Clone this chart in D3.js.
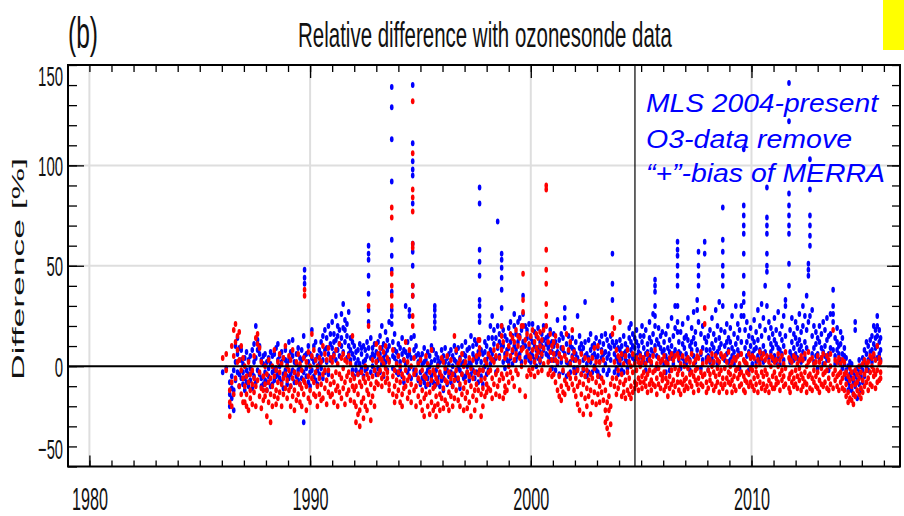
<!DOCTYPE html>
<html>
<head>
<meta charset="utf-8">
<script src="https://cdn.jsdelivr.net/npm/d3@7"></script>
<style>
  body { margin: 0; background: #fff; }
  svg { display: block; }
</style>
</head>
<body>
<script>
const w = 904;
const h = 516;

// axis ticks
const xTickYears = [1980, 1990, 2000, 2010];
const yTicks = [-50, 0, 50, 100, 150];
const mlsStart = 2004.72;

// sounding dates (decimal year) and the differences found at each date
const dates = [
  1986.04, 1986.20, 1986.36, 1986.45, 1986.54, 1986.62, 1986.71, 1986.79, 1986.88, 1986.96,
  1987.04, 1987.12, 1987.21, 1987.29, 1987.38, 1987.46, 1987.54, 1987.62, 1987.71, 1987.79, 1987.88, 1987.96,
  1988.04, 1988.12, 1988.21, 1988.29, 1988.38, 1988.46, 1988.54, 1988.62, 1988.71, 1988.79, 1988.88, 1988.96,
  1989.04, 1989.12, 1989.21, 1989.29, 1989.38, 1989.46, 1989.54, 1989.62, 1989.71, 1989.75, 1989.83, 1989.92,
  1990.00, 1990.08, 1990.17, 1990.25, 1990.33, 1990.42, 1990.50, 1990.58, 1990.67, 1990.75, 1990.83, 1990.92,
  1991.00, 1991.08, 1991.17, 1991.25, 1991.33, 1991.42, 1991.50, 1991.58, 1991.67, 1991.75, 1991.83, 1991.92,
  1992.00, 1992.08, 1992.17, 1992.25, 1992.33, 1992.42, 1992.50, 1992.58, 1992.65, 1992.75, 1992.83, 1992.92,
  1993.00, 1993.08, 1993.17, 1993.25, 1993.33, 1993.42, 1993.50, 1993.58, 1993.70, 1993.75, 1993.83, 1993.92,
  1994.00, 1994.08, 1994.17, 1994.25, 1994.33, 1994.42, 1994.50, 1994.58, 1994.65, 1994.71, 1994.80, 1994.90,
  1995.00, 1995.08, 1995.17, 1995.25, 1995.33, 1995.42, 1995.50, 1995.58, 1995.65, 1995.71, 1995.79, 1995.88, 1995.96,
  1996.04, 1996.12, 1996.21, 1996.29, 1996.38, 1996.46, 1996.54, 1996.62, 1996.71, 1996.79, 1996.88, 1996.96,
  1997.04, 1997.12, 1997.21, 1997.29, 1997.38, 1997.46, 1997.54, 1997.62, 1997.68, 1997.75, 1997.83, 1997.92,
  1998.00, 1998.08, 1998.17, 1998.25, 1998.33, 1998.42, 1998.50, 1998.58, 1998.68, 1998.75, 1998.83, 1998.92,
  1999.00, 1999.08, 1999.17, 1999.25, 1999.33, 1999.42, 1999.50, 1999.58, 1999.65, 1999.75, 1999.83, 1999.92,
  2000.00, 2000.08, 2000.17, 2000.25, 2000.33, 2000.42, 2000.50, 2000.58, 2000.70, 2000.79, 2000.88, 2000.96,
  2001.04, 2001.12, 2001.21, 2001.29, 2001.38, 2001.46, 2001.54, 2001.62, 2001.71, 2001.79, 2001.88, 2001.96,
  2002.04, 2002.12, 2002.21, 2002.29, 2002.38, 2002.46, 2002.54, 2002.62, 2002.71, 2002.79, 2002.88, 2002.96,
  2003.04, 2003.12, 2003.21, 2003.29, 2003.38, 2003.46, 2003.54, 2003.62, 2003.70, 2003.79, 2003.88, 2003.96,
  2004.04, 2004.12, 2004.21, 2004.29, 2004.38, 2004.46, 2004.54, 2004.62, 2004.71, 2004.79, 2004.88, 2004.96,
  2005.04, 2005.12, 2005.21, 2005.29, 2005.38, 2005.46, 2005.54, 2005.63, 2005.71, 2005.79, 2005.88, 2005.96,
  2006.04, 2006.12, 2006.21, 2006.29, 2006.38, 2006.46, 2006.54, 2006.65, 2006.71, 2006.79, 2006.88, 2006.96,
  2007.04, 2007.12, 2007.21, 2007.29, 2007.38, 2007.46, 2007.54, 2007.60, 2007.71, 2007.79, 2007.88, 2007.96,
  2008.04, 2008.12, 2008.21, 2008.29, 2008.38, 2008.46, 2008.54, 2008.62, 2008.70, 2008.79, 2008.88, 2008.96,
  2009.04, 2009.12, 2009.21, 2009.29, 2009.38, 2009.46, 2009.54, 2009.65, 2009.71, 2009.79, 2009.88, 2009.96,
  2010.04, 2010.12, 2010.21, 2010.29, 2010.38, 2010.46, 2010.54, 2010.62, 2010.70, 2010.79, 2010.88, 2010.96,
  2011.04, 2011.12, 2011.21, 2011.29, 2011.38, 2011.46, 2011.54, 2011.70, 2011.75, 2011.83, 2011.92,
  2012.00, 2012.08, 2012.17, 2012.25, 2012.33, 2012.42, 2012.50, 2012.58, 2012.65, 2012.75, 2012.83, 2012.92,
  2013.00, 2013.08, 2013.17, 2013.25, 2013.33, 2013.42, 2013.50, 2013.58, 2013.70, 2013.79, 2013.88, 2013.96,
  2014.04, 2014.12, 2014.21, 2014.29, 2014.38, 2014.46, 2014.54, 2014.62, 2014.70, 2014.79, 2014.88, 2014.96,
  2015.04, 2015.12, 2015.21, 2015.29, 2015.38, 2015.46, 2015.54, 2015.62, 2015.70, 2015.79, 2015.85
];

// blue series [%]
const blueVals = [
  [-3], [-1], [-8,-14,-20], [-5,-16,-11], [-12,-22,-2], [2,-7,10], [6,-3,14], [-4,9,-10], [3,-6,8], [-9,1,-3],
  [-6,4,-12], [-2,7,-8], [3,-10,-4], [-7,5,-1], [8,-3,-11], [-5,2,11], [4,-8,20], [13,8,-2], [10,-4,6], [-6,3,-10], [1,-9,5], [-3,6,-7],
  [-8,2,-12], [4,-5,-1], [-10,1,7], [-3,-9,5], [6,-2,-7], [-1,9,-5], [11,3,-4], [-6,5,0], [2,-8,7], [-4,4,-11], [8,-2,3], [-5,1,-9],
  [3,-6,12], [-4,7,-10], [5,-2,13], [-8,2,-3], [6,-5,1], [-2,9,-7], [4,-9,0], [-6,3,8], [15,-3,-28], [48,44,41,5], [-5,6,-1], [2,-8,10],
  [-3,6,-10], [18,4,-2], [10,-5,2], [-7,3,12], [5,-2,-9], [-4,8,1], [12,-1,6], [3,15,-6], [8,-3,18], [14,2,9], [6,20,-4], [11,3,16],
  [9,22,4], [16,6,12], [13,25,3], [20,8,15], [5,18,11], [26,10,14], [7,19,31], [23,18,12], [15,4,21], [10,27,6], [3,14,8], [12,-2,6],
  [4,-5,10], [-2,7,1], [8,-4,3], [1,11,-3], [6,-1,9], [10,2,-5], [3,8,-2], [12,5,-1], [60,56,53,45,36,28,22,9], [4,-3,14], [9,0,6], [-2,5,11],
  [7,-4,2], [3,12,-1], [15,6,-3], [1,9,20], [11,4,-5], [6,17,2], [-2,8,13], [10,3,22], [139,129,113,92,63,55,48,37,28,25,21], [12,5,-1], [4,16,8], [-3,7,2],
  [5,-4,11], [9,2,-2], [-5,6,14], [3,-8,8], [30,7,1], [12,-3,5], [28,25,6,-1], [4,14,-6], [140,111,102,98,95,81,61,57,50,40,35], [8,-2,15], [-4,5,10], [2,-7,6],
  [-3,4,-9], [6,-6,1], [-8,2,9], [3,-4,-10], [-2,7,-6], [5,-9,0], [-5,10,2], [8,-3,-8], [30,28,25,22,19,3], [-2,6,-9], [4,-6,1], [-10,2,-4], [3,-7,8],
  [-6,5,-12], [2,-3,9], [-9,4,-2], [6,-5,1], [-3,8,-8], [5,-10,0], [-4,3,10], [7,-6,2], [-1,9,-7], [4,-2,-11], [10,1,-4], [-6,6,2],
  [5,-5,12], [-3,8,0], [9,2,-7], [1,15,-4], [6,-2,10], [-6,4,13], [11,2,-3], [4,-8,7], [89,81,58,52,45,33,30,25,22], [2,-5,8], [-2,6,-9], [7,0,12],
  [3,10,-4], [14,5,-2], [8,20,1], [25,6,14], [11,18,3], [4,14,-3], [72,20,9], [16,5,12], [56,53,49,44,38,29,20,10], [10,2,18], [6,15,-1], [13,3,8],
  [9,19,2], [4,12,22], [15,7,1], [20,10,26], [8,16,3], [22,12,5], [6,15,24], [18,9,2], [35,26,12], [10,20,4], [14,5,18], [21,9,3],
  [6,14,2], [12,21,5], [3,10,17], [15,8,0], [9,19,4], [2,12,7], [16,5,10], [8,13,20], [14,6,11], [5,15,9], [18,3,11], [7,12,-1],
  [3,10,16], [12,-2,6], [23,7,1], [5,13,-4], [9,2,16], [-3,8,14], [29,24,19,6], [11,2,-5], [7,15,1], [2,10,-3], [14,5,9], [-1,8,3],
  [6,-3,12], [25,4,-1], [9,15,2], [-4,7,11], [3,-2,9], [32,12,5], [6,-5,1], [13,4,-3], [8,2,16], [-3,10,5], [11,0,6], [4,14,-2],
  [9,-3,5], [2,12,-5], [15,4,8], [-2,6,11], [7,1,16], [4,13,-4], [10,-2,6], [3,9,15], [56,41,33,12], [6,-3,10], [12,4,-1], [2,9,-4],
  [8,1,13], [-2,10,4], [6,15,-3], [11,3,7], [2,9,-1], [14,5,19], [21,8,12], [16,4,10], [9,14,2], [5,12,18], [10,3,7], [15,6,1],
  [4,12,20], [9,2,15], [18,6,-2], [3,11,7], [14,22,5], [8,1,12], [26,16,6], [43,40,37,30,25,20,10], [5,13,-1], [11,4,19], [2,9,15], [7,17,3],
  [12,1,8], [5,16,-3], [20,9,3], [-2,7,13], [10,24,4], [15,6,1], [8,19,30], [62,58,55,50,45,40,30,22,17], [12,3,7], [17,6,-1], [4,11,21], [9,2,14],
  [6,15,1], [13,4,24], [3,10,-2], [19,8,12], [5,27,14], [11,2,17], [33,28,8], [57,50,45,40,22], [16,6,-1], [9,20,3], [62,56,14], [4,12,8],
  [15,5,-2], [8,18,2], [24,11,4], [2,9,16], [13,28,6], [7,1,20], [32,14,9], [18,5,11], [79,63,57,50,45,40,30], [10,3,17], [6,21,12], [14,2,8],
  [3,12,19], [9,25,5], [16,7,1], [4,30,11], [21,8,14], [6,18,-1], [30,25,12], [108,80,75,70,66,56,45,36,32,25], [18,9,2], [12,22,5], [7,15,-2], [19,4,10],
  [6,14,1], [23,8,12], [2,17,9], [13,5,28], [8,20,3], [31,15,6], [10,24,2], [40,18,7], [89,74,70,66,56,50,47,30], [14,4,22], [7,19,11], [16,3,9],
  [5,13,24], [11,2,18], [27,9,4], [8,16,1], [20,6,13], [3,25,10], [33,30,15], [141,122,86,80,75,70,66,51,40], [18,7,2], [12,24,5], [9,3,16],
  [14,22,6], [4,11,19], [26,8,13], [2,17,10], [20,30,7], [12,4,25], [35,18,9], [51,48,45,22], [103,88,75,70,65,60,25], [15,6,28], [9,20,2], [17,5,11],
  [6,14,-1], [12,3,20], [4,16,9], [22,7,1], [10,18,5], [3,13,24], [15,6,-2], [26,9,16], [38,30,26,22,8], [5,14,1], [19,8,12], [2,10,6],
  [11,3,17], [6,14,-1], [9,1,5], [-2,4,-6], [-8,0,-12], [-4,-10,2], [-12,-6,1], [-3,-14,-8], [22,18,-5,-10], [-16,-7,-1], [-9,-3,3], [-5,-12,0],
  [-2,-8,4], [2,-5,8], [6,0,12], [10,3,-2], [4,13,7], [15,8,2], [11,20,5], [18,9,14], [25,20,15,10,4], [12,6,18], [8,3,14]
];

// red series [%]
const redVals = [
  [4], [6,-2], [-12,-25,-18], [-8,-20,10], [5,-14,18], [12,21,-6], [8,15,2], [3,-10,17], [-2,10,-14], [-6,4,-18],
  [-10,-18,0], [-14,-5,-20], [-8,-22,2], [-16,-4,-12], [-2,-19,-9], [-13,-6,5], [-20,-10,14], [16,11,-7], [9,-15,-3], [-11,2,-21], [-5,-17,-12], [-9,0,-15],
  [-12,-25,-4], [-18,-8,3], [-28,-14,-6], [-10,-20,0], [-5,-15,8], [-12,-2,-19], [2,-8,-16], [-3,-13,6], [-9,1,-20], [-14,-6,4], [10,-4,-11], [-7,-16,0],
  [-2,-12,5], [-10,-20,3], [-6,-15,8], [-12,-3,-22], [-8,2,-17], [-14,-4,6], [-18,-9,1], [-11,-20,-2], [-14,-7,4], [38,35,-8], [-22,-10,2], [-16,-5,7],
  [-12,0,-18], [16,-6,5], [-8,8,-14], [-15,-3,3], [-20,-10,0], [-6,-14,4], [2,-9,-17], [-4,-16,10], [-11,-2,6], [-7,-19,3], [-2,-13,9], [-9,4,-15],
  [-5,-14,2], [5,-8,-18], [-3,-12,8], [-10,1,-20], [11,-4,-13], [-6,4,-16], [-1,-11,6], [-8,3,-19], [2,-14,-5], [-12,5,-3], [-7,-17,1], [15,-4,-10],
  [-6,-18,-12], [-20,-28,-10], [-14,-24,-4], [-22,-8,-30], [-10,-18,-3], [-16,-26,-6], [-8,-20,0], [-12,-4,-22], [30,20,-6,-14], [-18,-9,-27], [-5,-15,3], [-11,-2,-20],
  [2,-8,11], [-4,6,-9], [9,-2,4], [-6,3,-10], [7,-4,1], [-1,-8,10], [4,-6,-3], [-9,2,-12], [79,74,46,40,35,30], [8,-5,-14], [-10,-2,-18], [-7,1,-15],
  [-12,-3,5], [-8,-18,0], [-14,-4,-20], [-6,3,-11], [-2,-10,12], [-16,-7,2], [8,-5,-13], [-9,0,-18], [132,106,88,84,77,61,59,40,35,25,20], [-4,-12,4], [-10,-20,-2], [-15,-6,1],
  [-8,-18,3], [-12,-2,-22], [-16,-25,-5], [-6,-14,5], [-20,-9,1], [-13,-3,-24], [-7,-18,8], [-22,-11,-2], [-10,-20,-4], [-15,-25,-6], [-8,-19,0], [-14,-3,-22], [-5,-16,4],
  [-11,-21,2], [-7,-17,-1], [-19,-8,5], [-13,-3,-22], [-6,-15,3], [-20,-10,-4], [15,-7,-16], [-12,-2,8], [-17,-6,1], [-9,-20,3], [-4,-14,6], [-11,-22,0],
  [-8,-16,2], [-13,-3,-21], [-5,-18,4], [-10,-1,-25], [-15,-6,3], [-3,-12,-22], [-9,5,-17], [13,-4,-12], [13,9,6,-2], [-7,-25,-14], [-11,-2,-20], [-6,3,-15],
  [-9,1,-13], [-3,6,-11], [-12,-2,4], [-6,3,-16], [2,-9,8], [-4,-14,5], [10,-2,-10], [-7,-15,4], [20,15,8,-4], [12,-6,-16], [-10,4,-13], [6,-4,-12],
  [10,0,-8], [16,5,-3], [8,-6,14], [3,12,-10], [18,6,-2], [10,-4,15], [4,14,-12], [20,8,0], [46,33,27,20,9], [13,2,-15], [7,16,-5], [11,-2,5],
  [15,4,-4], [8,18,-1], [12,2,-5], [5,16,9], [14,-3,7], [10,3,17], [6,-2,13], [18,9,1], [90,88,58,48,41,31,25,20], [12,2,-4], [7,16,-2], [10,3,-5],
  [6,-4,12], [-8,3,15], [10,-12,2], [-15,-5,6], [-10,-17,4], [-2,9,-13], [-7,5,-14], [3,-9,16], [-4,8,-11], [12,-6,1], [-9,4,18], [-3,7,-12],
  [-6,3,-15], [-10,-2,-19], [2,-8,-22], [-14,-4,6], [-9,-24,-1], [-16,-5,4], [-20,-11,-2], [-7,3,-15], [-12,-24,-4], [-6,4,-18], [-13,-1,9], [-8,-19,2],
  [-5,-14,10], [-10,2,-18], [7,-6,-13], [-17,-8,3], [-22,-28,-12], [-26,-31,-18], [-22,-34,-15], [-20,-29,-9], [24,16,-6], [19,-10,2], [-6,8,-14], [-11,-2,5],
  [22,3,-8], [-4,-15,6], [-9,1,-13], [5,-7,-16], [-12,-3,8], [-6,-14,2], [-10,-16,0], [-3,-13,6], [-8,1,-11], [-2,-9,4], [-6,2,-12], [0,-8,5],
  [-5,2,-11], [-8,4,-3], [1,-10,-6], [-4,6,-13], [-9,-2,3], [2,-7,-12], [-3,5,-9], [8,-2,-10], [-6,1,-14], [-1,-9,4], [-11,-4,2], [-7,3,-5],
  [-3,-12,5], [2,-6,-10], [-8,1,-15], [-5,4,-11], [-2,-9,6], [3,-7,-13], [-10,-1,5], [6,-4,-8], [-12,-2,4], [1,-8,-14], [-4,5,-9], [-7,0,-12],
  [-6,3,-10], [-1,-11,4], [2,-8,-4], [-10,-3,6], [-5,1,-13], [3,-7,-2], [-9,-1,5], [4,-6,-12], [-3,7,-9], [1,-10,-5], [29,21,-4], [-8,2,-13],
  [-2,-11,4], [-7,3,-4], [0,-9,6], [-12,-3,2], [-5,5,-10], [3,-8,-1], [-4,-13,2], [6,-2,-9], [4,-6,-11], [-1,-9,5], [-6,2,-13], [-3,7,-8],
  [-9,0,-4], [2,-7,-13], [-5,4,-10], [-2,-12,3], [5,-6,-1], [-10,1,-4], [-3,-9,6], [3,-5,-12], [-7,2,-13], [1,-8,-3], [-4,6,-10], [-8,-1,4],
  [-2,-10,5], [4,-6,-12], [-9,0,-3], [-5,3,-13], [1,-8,7], [-11,-3,4], [6,-5,-9], [-2,-12,3], [5,-4,-10], [-7,2,-13], [0,-9,5], [-5,4,-11],
  [-3,-11,2], [3,-6,-9], [-8,0,6], [-12,-4,3], [5,-7,-2], [-10,1,-5], [-1,-9,7], [4,-6,-11], [-4,3,-13], [2,-8,-3], [-6,5,-10],
  [-2,-9,4], [1,-11,-5], [-7,3,-1], [-12,-4,5], [3,-6,-10], [-3,6,-8], [-9,0,-13], [2,-5,7], [-4,-11,3], [-6,4,-12], [1,-8,-2], [-10,2,-5],
  [-3,5,-11], [2,-7,-13], [-9,-1,4], [-4,6,-10], [1,-8,-3], [-11,-2,5], [-6,3,-12], [0,-9,6], [18,-4,-11], [-7,3,-2], [2,-10,-5], [-4,4,-12],
  [-8,1,-3], [3,-6,-11], [-4,-12,2], [-9,-15,-3], [-13,-5,-18], [-7,-16,-1], [-10,-3,-17], [-14,-6,-19], [-9,-2,-15], [-12,-4,-8], [-6,-14,0], [-11,-3,-16],
  [-7,-13,1], [-4,-10,3], [-8,1,-2], [2,-6,-12], [-3,5,-9], [-10,0,4], [6,-5,-2], [-4,3,-11], [10,-2,-8], [1,-7,4], [-3,2,-6]
];

const bluePts = dates.flatMap((d, i) => (blueVals[i] || []).map(v => [d, v]));
const redPts = dates.flatMap((d, i) => (redVals[i] || []).map(v => [d, v]));

const pLeft = 68, pRight = 900, pTop = 65, pBottom = 466.5;

const xScale = d3.scaleLinear().domain([1979.03, 2016.73]).range([pLeft, pRight]);
const yScale = d3.scaleLinear().domain([-50, 150]).range([pBottom, pTop]);

const svg = d3.select('body')
  .append('svg')
  .attr('width', w)
  .attr('height', h)
  .style('font-family', '"Liberation Sans", Arial, sans-serif');

// yellow box top right
svg.append('rect')
  .attr('x', 883).attr('y', 0)
  .attr('width', 21).attr('height', 50)
  .attr('fill', '#ffff00');

// grid
svg.append('g')
  .selectAll('line')
  .data(xTickYears)
  .enter()
  .append('line')
  .attr('x1', d => xScale(d)).attr('x2', d => xScale(d))
  .attr('y1', pTop).attr('y2', pBottom)
  .attr('stroke', '#dedede').attr('stroke-width', 2);

svg.append('g')
  .selectAll('line')
  .data([50, 100])
  .enter()
  .append('line')
  .attr('x1', pLeft).attr('x2', pRight)
  .attr('y1', d => yScale(d)).attr('y2', d => yScale(d))
  .attr('stroke', '#dedede').attr('stroke-width', 2);

// points
svg.append('g')
  .selectAll('ellipse')
  .data(bluePts)
  .enter()
  .append('ellipse')
  .attr('cx', d => xScale(d[0]))
  .attr('cy', d => yScale(d[1]))
  .attr('rx', 1.8).attr('ry', 3)
  .attr('fill', '#0000ff');

svg.append('g')
  .selectAll('ellipse')
  .data(redPts)
  .enter()
  .append('ellipse')
  .attr('cx', d => xScale(d[0]))
  .attr('cy', d => yScale(d[1]))
  .attr('rx', 1.8).attr('ry', 3)
  .attr('fill', '#ff0000');

// zero line and MLS start line
svg.append('line')
  .attr('x1', pLeft).attr('x2', pRight)
  .attr('y1', yScale(0)).attr('y2', yScale(0))
  .attr('stroke', '#000').attr('stroke-width', 2);

svg.append('line')
  .attr('x1', xScale(mlsStart)).attr('x2', xScale(mlsStart))
  .attr('y1', pTop).attr('y2', pBottom)
  .attr('stroke', '#000').attr('stroke-width', 1.2);

// axes: ticks
const years = d3.range(1980, 2017);
const yMinor = d3.range(-50, 151, 10);

function tickAxis(axis, translate) {
  const g = svg.append('g')
    .attr('transform', translate)
    .call(axis);
  g.select('.domain').remove();
  g.selectAll('line').attr('stroke', '#000').attr('stroke-width', 1.3);
  return g;
}

tickAxis(d3.axisBottom(xScale).tickValues(years).tickSize(-6).tickFormat(''), 'translate(0,' + pBottom + ')');
tickAxis(d3.axisTop(xScale).tickValues(years).tickSize(-7).tickFormat(''), 'translate(0,' + pTop + ')');
tickAxis(d3.axisBottom(xScale).tickValues(xTickYears).tickSize(-11).tickFormat(''), 'translate(0,' + pBottom + ')');
tickAxis(d3.axisTop(xScale).tickValues(xTickYears.slice(1)).tickSize(-13).tickFormat(''), 'translate(0,' + pTop + ')');

tickAxis(d3.axisLeft(yScale).tickValues(yMinor).tickSize(-9).tickFormat(''), 'translate(' + pLeft + ',0)');
tickAxis(d3.axisRight(yScale).tickValues(yMinor).tickSize(-8).tickFormat(''), 'translate(' + pRight + ',0)');
tickAxis(d3.axisLeft(yScale).tickValues([0, 50, 100]).tickSize(-16).tickFormat(''), 'translate(' + pLeft + ',0)');
tickAxis(d3.axisRight(yScale).tickValues([0, 50, 100]).tickSize(-13).tickFormat(''), 'translate(' + pRight + ',0)');

// frame
svg.append('rect')
  .attr('x', pLeft).attr('y', pTop)
  .attr('width', pRight - pLeft).attr('height', pBottom - pTop)
  .attr('fill', 'none')
  .attr('stroke', '#000').attr('stroke-width', 2);

// tick labels (tall narrow style of the original)
const xLab = svg.append('g')
  .attr('transform', 'translate(0,' + (pBottom + 43) + ')')
  .call(d3.axisBottom(xScale).tickValues(xTickYears).tickSize(0).tickFormat(d3.format('d')));
xLab.select('.domain').remove();
xLab.selectAll('text')
  .attr('y', 0)
  .attr('dy', 0)
  .style('font-size', '31px')
  .attr('textLength', 36)
  .attr('lengthAdjust', 'spacingAndGlyphs')
  .attr('fill', '#111');

const yShift = { '150': 10, '-50': -18 };
const yLab = svg.append('g')
  .attr('transform', 'translate(' + (pLeft - 5) + ',0)')
  .call(d3.axisLeft(yScale).tickValues(yTicks).tickSize(0).tickFormat(d3.format('d')));
yLab.select('.domain').remove();
yLab.selectAll('text')
  .attr('x', 0)
  .attr('dy', d => (yShift[d] || 0) + 10)
  .style('font-size', '28px')
  .attr('textLength', d => String(d).length * 8.3)
  .attr('lengthAdjust', 'spacingAndGlyphs')
  .attr('fill', '#111');

// title, squeezed horizontally like the original
const title = svg.append('text')
  .attr('text-anchor', 'middle')
  .style('font-size', '35px')
  .attr('fill', '#111')
  .text('Relative difference with ozonesonde data');
const titleLen = title.node().getComputedTextLength();
title.attr('transform', 'translate(485,47)scale(' + (374 / titleLen) + ',1)');

svg.append('text')
  .attr('x', 68).attr('y', 48)
  .style('font-size', '45px')
  .attr('textLength', 30)
  .attr('lengthAdjust', 'spacingAndGlyphs')
  .attr('fill', '#111')
  .text('(b)');

svg.append('text')
  .attr('transform', 'translate(24,380)rotate(-90)')
  .style('font-size', '17px')
  .attr('textLength', 222)
  .attr('lengthAdjust', 'spacingAndGlyphs')
  .attr('fill', '#111')
  .text('Difference [%]');

// annotation
const note = [
  ['MLS 2004-present', 112, 232],
  ['O3-data remove', 148, 206],
  ['\u201c+\u201d-bias of MERRA', 182, 239]
];
svg.append('g')
  .selectAll('text')
  .data(note)
  .enter()
  .append('text')
  .attr('x', 646)
  .attr('y', d => d[1])
  .attr('textLength', d => d[2])
  .attr('lengthAdjust', 'spacingAndGlyphs')
  .style('font-size', '26px')
  .style('font-style', 'italic')
  .attr('fill', '#0000ff')
  .text(d => d[0]);
</script>
</body>
</html>
